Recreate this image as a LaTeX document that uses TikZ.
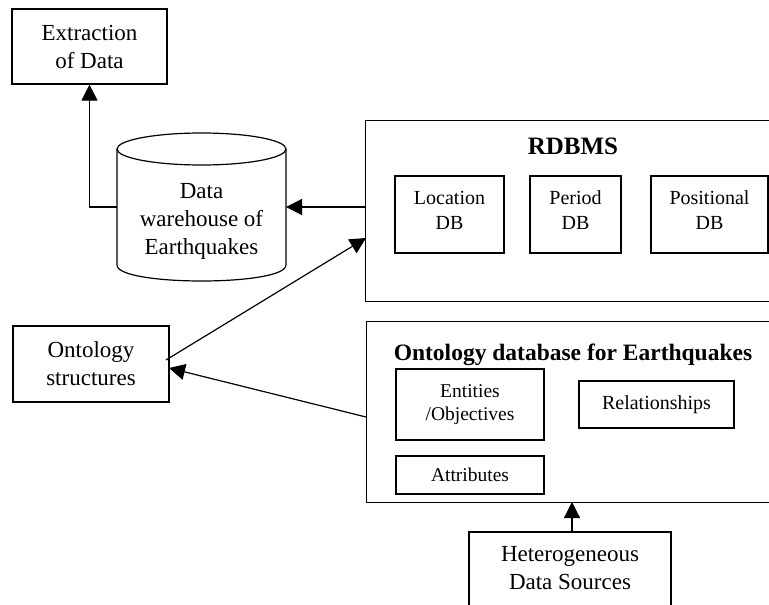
\documentclass[tikz,border=0pt]{standalone}
\usepackage{fontspec}
\setmainfont{Liberation Serif}
\usetikzlibrary{arrows.meta,calc}
\begin{document}
\begin{tikzpicture}[x=1pt,y=-1pt,
  line width=1.2pt,
  fbig/.style={font=\fontsize{23}{28}\selectfont},
  fmid/.style={font=\fontsize{20}{25}\selectfont},
  fsm/.style={font=\fontsize{19.5}{23}\selectfont},
  boxn/.style={draw, rectangle, align=center, inner sep=0pt},
  arr/.style={-{Triangle[length=16pt,width=16pt]}, line width=1.2pt}
]
\useasboundingbox (0,0) rectangle (769,605);
% Extraction
\node[boxn, fbig, minimum width=155pt, minimum height=75pt] (ext) at (89.5,46.5) {Extraction\\of Data};
% Cylinder
\draw (117,149) -- (117,265) .. controls (117,286.33) and (286,286.33) .. (286,265) -- (286,149);
\draw[fill=white] (201.5,149) ellipse [x radius=84.5, y radius=16];
\node[fbig, align=center] (dw) at (201.5,221) {Data\\warehouse of\\Earthquakes};
\coordinate (dwL) at (117,207);
\coordinate (dwR) at (286,207);
% RDBMS
\node[boxn, minimum width=410pt, minimum height=181pt, anchor=north west] (rdb) at (365,120) {};
\node[font=\fontsize{25}{30}\selectfont\bfseries] (rdbt) at (573,146) {RDBMS};
\node[boxn, fmid, text depth=8pt, minimum width=109pt, minimum height=77pt] (loc) at (449.5,214.5) {Location\\DB};
\node[boxn, fmid, text depth=8pt, minimum width=91pt, minimum height=77pt] (per) at (575.5,214.5) {Period\\DB};
\node[boxn, fmid, text depth=8pt, minimum width=117pt, minimum height=77pt] (pos) at (709.5,214.5) {Positional\\DB};
% Ontology structures
\node[boxn, fbig, minimum width=156pt, minimum height=76pt] (os) at (91,364) {Ontology\\structures};
% Ontology DB
\node[boxn, minimum width=410pt, minimum height=181pt, anchor=north west] (odb) at (366,321) {};
\node[font=\fontsize{23.5}{28}\selectfont\bfseries] (odbt) at (573,355) {Ontology database for Earthquakes};
\node[boxn, fsm, minimum width=148pt, minimum height=71pt] (ent) at (470,404.5) {Entities\\/Objectives};
\node[boxn, fmid, minimum width=155pt, minimum height=47pt] (rel) at (656.5,404.5) {Relationships};
\node[boxn, fsm, minimum width=148pt, minimum height=38pt] (att) at (470,475) {Attributes};
% Heterogeneous
\node[fbig, align=center] (het) at (570,568) {Heterogeneous\\Data Sources};
\draw (469,625) -- (469,532) -- (671,532) -- (671,625);
% Connectors
\coordinate (rdbA) at (365,207);
\coordinate (rdbB) at (366,238);
\coordinate (osA) at (166,360);
\coordinate (osB) at (169,368);
\coordinate (odbA) at (366,417);
\coordinate (hetA) at (572,532);
\coordinate (odbB) at (572,502);
\draw[arr] (dwL) -| (ext.south);
\draw[arr] (rdbA) -- (dwR);
\draw[arr] (osA) -- (rdbB);
\draw[arr] (odbA) -- (osB);
\draw[arr] (hetA) -- (odbB);
\end{tikzpicture}
\end{document}
